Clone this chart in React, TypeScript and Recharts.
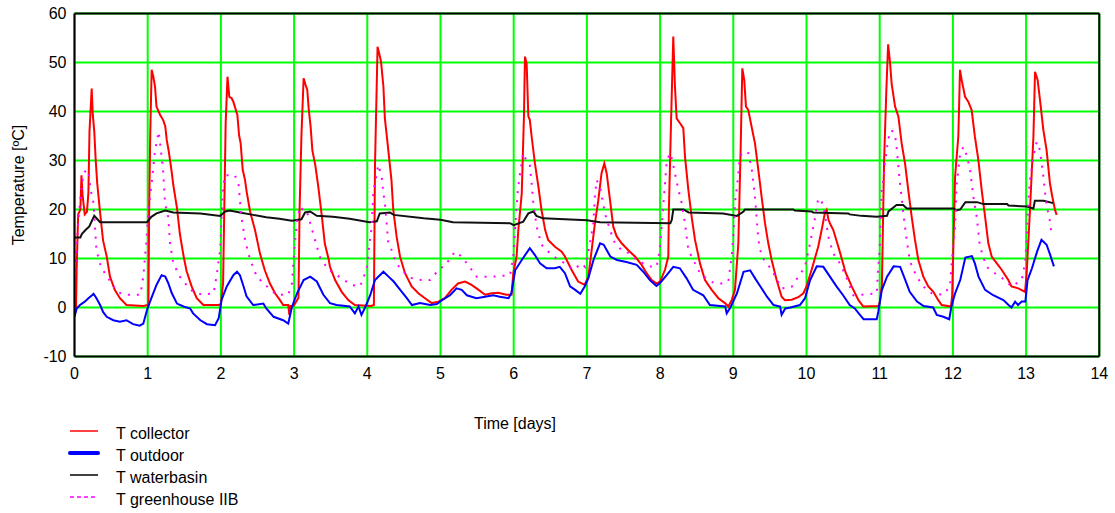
import React from 'react';
import { LineChart, Line, XAxis, YAxis, CartesianGrid, ReferenceLine } from 'recharts';

type P = [number, number];

// [day, °C]
const collector: P[] = [
  [0, -1.5], [0.02, -0.5], [0.03, 8], [0.05, 19], [0.08, 20], [0.095, 27], [0.11, 23], [0.14, 19], [0.17, 19.5],
  [0.19, 23.4], [0.205, 36], [0.235, 44.7], [0.25, 39.3], [0.27, 36], [0.29, 30], [0.31, 25.4], [0.35, 19.3],
  [0.39, 13.7], [0.44, 10.4], [0.485, 6.3], [0.55, 3.6], [0.62, 1.9], [0.71, 0.5], [0.94, 0.3], [1.0, 0.5],
  [1.01, 0.5], [1.02, 20], [1.035, 35.6], [1.054, 48.5], [1.077, 47.1], [1.1, 45.1], [1.12, 41], [1.17, 39.3],
  [1.21, 38.3], [1.24, 37], [1.26, 34.2], [1.285, 32.1], [1.305, 30.1], [1.33, 27.4], [1.35, 25], [1.4, 20.3],
  [1.44, 15], [1.49, 10.5], [1.53, 7.5], [1.6, 4.3], [1.67, 1.9], [1.76, 0.5], [1.97, 0.5],
  [2.0, 0.8], [2.03, 5], [2.065, 37.6], [2.09, 47.1], [2.115, 43], [2.147, 42.7], [2.17, 42],
  [2.19, 41], [2.225, 39.3], [2.248, 35.2], [2.27, 33.5], [2.298, 28.1], [2.33, 26], [2.352, 23.6], [2.4, 19.5],
  [2.466, 15.8], [2.534, 11], [2.6, 7.6], [2.67, 4.9], [2.74, 2.9], [2.807, 1.5], [2.85, 0.5], [2.92, 0.5],
  [2.935, -1.5], [2.95, 0.3], [2.985, 0.3],
  [3.0, 0.5], [3.04, 1.5], [3.06, 2], [3.075, 20], [3.1, 35], [3.13, 46.8], [3.155, 45.5], [3.18, 44.4], [3.2, 40.5],
  [3.225, 37], [3.25, 32], [3.29, 29], [3.33, 24.7], [3.38, 18.5], [3.42, 13], [3.47, 10], [3.49, 8.3],
  [3.56, 5.6], [3.65, 3.2], [3.74, 1.5], [3.83, 0.5], [4.05, 0.3],
  [4.09, 0.5], [4.105, 29], [4.14, 53.2], [4.16, 52], [4.187, 50.2], [4.22, 45.1], [4.24, 38.6], [4.265, 35.2],
  [4.296, 30.8], [4.33, 26], [4.355, 19.9], [4.4, 14.5], [4.447, 10.4], [4.515, 7.0], [4.606, 4.3], [4.697, 2.9],
  [4.788, 1.9], [4.88, 0.9], [4.97, 1.2], [5.06, 1.9], [5.15, 3.6], [5.24, 4.9], [5.335, 5.3], [5.425, 4.6],
  [5.52, 3.6], [5.61, 2.6], [5.7, 2.9], [5.79, 3.0], [5.9, 2.6], [5.97, 2.6],
  [5.995, 7], [6.04, 10.5], [6.063, 15.8], [6.11, 23.3], [6.14, 39], [6.154, 51.2], [6.177, 49.8], [6.2, 39],
  [6.22, 38.3], [6.245, 34.9], [6.29, 29.4], [6.337, 24.7], [6.38, 19.9], [6.43, 15.8], [6.47, 13.8],
  [6.564, 12.4], [6.655, 11.4], [6.7, 10.4], [6.79, 7.7], [6.88, 5.3], [6.97, 4.6],
  [7.02, 6.3], [7.065, 11.7], [7.11, 17.2], [7.156, 21.9], [7.2, 27.4], [7.238, 29.4], [7.27, 27.4], [7.316, 21.9],
  [7.36, 16.5], [7.407, 14.5], [7.475, 13.1], [7.566, 11.7], [7.657, 10.4], [7.748, 8.7], [7.816, 7.0],
  [7.885, 5.6], [7.953, 4.9], [8.0, 5.3], [8.067, 7.7], [8.112, 10.4],
  [8.12, 19.9], [8.149, 37.6], [8.18, 55.3], [8.203, 45.1], [8.226, 38.6], [8.272, 37.6], [8.317, 36.6],
  [8.34, 30.8], [8.386, 24], [8.431, 18.5], [8.477, 13.8], [8.545, 9.0], [8.613, 5.6], [8.705, 3.6],
  [8.796, 1.9], [8.886, 0.9], [8.932, 0.2], [8.978, 1.5], [9.023, 3.6],
  [9.069, 13.1], [9.1, 32.1], [9.123, 48.8], [9.15, 46.4], [9.173, 41], [9.205, 40.3], [9.25, 36.9],
  [9.296, 33.5], [9.342, 28.1], [9.387, 22.6], [9.433, 17.2], [9.478, 13.1], [9.524, 9.7], [9.592, 5.6],
  [9.66, 2.2], [9.706, 1.5], [9.797, 1.6], [9.888, 2.1], [9.957, 2.9], [10.0, 4.3], [10.07, 7.7],
  [10.16, 12.4], [10.216, 16.5], [10.25, 19.2], [10.275, 19.9], [10.3, 17.9], [10.32, 17.2], [10.366, 15.8],
  [10.435, 12.4], [10.5, 9.0], [10.53, 7.3], [10.617, 4.3], [10.71, 1.5], [10.776, 0.2], [10.98, 0.3],
  [11.0, 1.0], [11.03, 4.5], [11.06, 30], [11.09, 44], [11.115, 53.7], [11.14, 50.2], [11.163, 45.7],
  [11.21, 41], [11.255, 39], [11.3, 33.5], [11.346, 29.4], [11.39, 24], [11.437, 18.5], [11.482, 13.8],
  [11.528, 9.7], [11.596, 6.3], [11.664, 4.3], [11.733, 3.2], [11.8, 1.5], [11.847, 0.5], [11.974, 0.2],
  [11.99, 2.5], [12.03, 26.7], [12.074, 34.9], [12.097, 48.5], [12.12, 46.4], [12.166, 43], [12.21, 42],
  [12.256, 40.3], [12.3, 34.9], [12.348, 30.1], [12.393, 24], [12.44, 18.5], [12.484, 13.1], [12.53, 10.4],
  [12.6, 9.0], [12.666, 7.7], [12.757, 5.6], [12.8, 4.3], [12.894, 3.9], [12.985, 3.2],
  [13.008, 7.0], [13.053, 19.9], [13.1, 34.9], [13.122, 48.1], [13.158, 46.4], [13.19, 42.3], [13.236, 36.2],
  [13.28, 32.1], [13.326, 25.3], [13.358, 22.6], [13.395, 19.9], [13.418, 18.9],
];

const outdoor: P[] = [
  [0, -1.9], [0.03, -0.2], [0.075, 0.5], [0.14, 1.2], [0.19, 1.9], [0.24, 2.5], [0.26, 2.8], [0.3, 1.9],
  [0.35, 0.5], [0.39, -0.9], [0.44, -1.9], [0.53, -2.6], [0.62, -2.9], [0.71, -2.6], [0.8, -3.4], [0.89, -3.7],
  [0.94, -3.3], [0.99, -0.5], [1.05, 1.9], [1.12, 4.6], [1.19, 6.6], [1.24, 6.3], [1.28, 5.0], [1.33, 2.9],
  [1.4, 0.8], [1.49, 0.2], [1.58, -0.2], [1.62, -1.2], [1.72, -2.6], [1.81, -3.4], [1.92, -3.6], [1.97, -2.2],
  [2.01, 1.6], [2.08, 4.3], [2.17, 6.6], [2.22, 7.3], [2.26, 6.6], [2.31, 4.3], [2.35, 2.3], [2.44, 0.5],
  [2.58, 0.8], [2.62, -0.2], [2.72, -1.9], [2.85, -2.6], [2.92, -3.3], [2.97, 0.1], [3.04, 2.9], [3.13, 5.6],
  [3.22, 6.3], [3.31, 5.3], [3.4, 2.6], [3.49, 0.9], [3.58, 0.5], [3.76, 0.2], [3.83, -1.2], [3.88, 0.2],
  [3.92, -1.5], [3.97, 0.0], [4.04, 2.5], [4.105, 5.6], [4.22, 7.3], [4.29, 6.3], [4.36, 5.3], [4.45, 3.6],
  [4.54, 1.9], [4.61, 0.5], [4.72, 0.9], [4.86, 0.5], [4.95, 0.7], [5.02, 1.5], [5.13, 2.5], [5.22, 3.9],
  [5.29, 3.6], [5.36, 2.5], [5.49, 1.9], [5.61, 2.2], [5.72, 2.5], [5.81, 2.2], [5.93, 1.9], [5.97, 3.0],
  [6.02, 7.6], [6.11, 9.7], [6.22, 12.1], [6.29, 10.7], [6.36, 9.0], [6.45, 8.0], [6.56, 8.0], [6.63, 8.3],
  [6.7, 7.0], [6.77, 4.3], [6.84, 3.6], [6.91, 2.8], [6.97, 4.3], [7.02, 6.0], [7.09, 9.7], [7.18, 13.1],
  [7.23, 12.8], [7.32, 10.4], [7.41, 9.7], [7.54, 9.3], [7.68, 8.7], [7.77, 7.3], [7.86, 5.6], [7.95, 4.4],
  [8.0, 5.0], [8.09, 6.6], [8.18, 8.3], [8.27, 8.0], [8.36, 6.0], [8.45, 3.6], [8.59, 2.5], [8.68, 0.5],
  [8.82, 0.3], [8.89, 0.2], [8.91, -1.2], [8.96, 0.0], [9.05, 2.9], [9.14, 7.3], [9.23, 7.6], [9.3, 5.9],
  [9.37, 4.3], [9.46, 2.2], [9.55, 0.5], [9.64, 0.2], [9.66, -1.5], [9.71, -0.2], [9.78, 0.0], [9.91, 0.5],
  [9.98, 1.9], [10.05, 5.6], [10.14, 8.4], [10.23, 8.3], [10.32, 6.3], [10.41, 4.3], [10.5, 2.5], [10.59, 0.5],
  [10.66, -0.2], [10.73, -1.5], [10.78, -2.4], [10.96, -2.4], [10.98, -0.9], [11.03, 3.6], [11.1, 6.3],
  [11.19, 8.4], [11.28, 8.3], [11.35, 5.6], [11.41, 3.2], [11.51, 1.2], [11.6, 0.3], [11.73, 0.0], [11.78, -1.5],
  [11.87, -1.9], [11.95, -2.4], [11.98, 0.2], [12.03, 2.9], [12.1, 5.6], [12.17, 10.2], [12.26, 10.5],
  [12.3, 9.0], [12.35, 6.3], [12.44, 3.6], [12.55, 2.5], [12.69, 1.5], [12.76, 0.5], [12.8, 0.0], [12.85, 1.2],
  [12.89, 0.5], [12.94, 1.2], [12.99, 1.2], [13.02, 5.6], [13.08, 8.0], [13.15, 11.4], [13.21, 13.8],
  [13.28, 12.8], [13.33, 10.7], [13.38, 8.4],
];

const waterbasin: P[] = [
  [0, 14.3], [0.08, 14.3], [0.1, 15], [0.15, 15.8], [0.2, 16.5], [0.27, 18.7], [0.35, 17.4], [0.99, 17.4],
  [1.05, 18.5], [1.12, 19.2], [1.24, 19.8], [1.35, 19.4], [1.72, 19.2], [1.99, 18.7], [2.06, 19.6], [2.12, 19.8],
  [2.26, 19.4], [2.44, 18.9], [2.62, 18.4], [2.8, 18.1], [2.97, 17.7], [3.1, 18.0], [3.15, 19.4], [3.22, 19.6],
  [3.31, 18.7], [3.53, 18.5], [3.76, 18.1], [4.03, 17.4], [4.13, 17.6], [4.17, 19.2], [4.31, 19.4], [4.36, 18.9],
  [4.77, 18.2], [5.0, 17.9], [5.17, 17.4], [5.95, 17.2], [6.0, 16.8], [6.13, 17.5], [6.2, 19.2], [6.27, 19.6],
  [6.31, 18.7], [6.4, 18.2], [7.0, 17.8], [7.18, 17.4], [8.14, 17.2], [8.16, 17.9], [8.18, 20.0], [8.32, 20.0],
  [8.39, 19.4], [8.86, 19.2], [9.05, 18.7], [9.14, 19.6], [9.16, 20.0], [9.82, 20.0], [9.84, 19.8], [10.07, 19.6],
  [10.09, 19.4], [10.57, 19.2], [10.59, 19.0], [10.75, 18.7], [10.96, 18.5], [11.1, 18.7], [11.12, 19.6],
  [11.23, 20.9], [11.32, 20.9], [11.37, 20.2], [12.01, 20.2], [12.05, 19.8], [12.1, 20.0], [12.17, 21.5],
  [12.33, 21.5], [12.42, 21.1], [12.74, 21.1], [12.76, 20.8], [13.01, 20.6], [13.1, 20.2], [13.12, 21.8],
  [13.24, 21.8], [13.37, 21.3],
];

const greenhouse: P[] = [
  [0, 2], [0.02, 10.4], [0.05, 17.2], [0.075, 21.6], [0.11, 26], [0.14, 27.7], [0.19, 28.1], [0.22, 24],
  [0.26, 21.3], [0.3, 11.7], [0.36, 8.3], [0.46, 6.0], [0.58, 3.2], [0.69, 2.6], [0.9, 2.6], [0.94, 6.3],
  [0.98, 13.1], [1.01, 19.9], [1.054, 25.3], [1.1, 32.1], [1.15, 35.9], [1.19, 30.8], [1.21, 28.1],
  [1.236, 21.3], [1.28, 18.5], [1.305, 13.1], [1.35, 9.0], [1.44, 6.3], [1.58, 3.6], [1.74, 2.6], [1.9, 2.9],
  [1.94, 6.3], [1.99, 11.7], [2.01, 18.5], [2.03, 24.6], [2.056, 27], [2.12, 27], [2.19, 27], [2.24, 25.3],
  [2.28, 18.5], [2.33, 13.8], [2.375, 11], [2.42, 9], [2.49, 6.3], [2.63, 4.3], [2.76, 2.6], [2.92, 2.6],
  [2.97, 4.9], [2.99, 9], [3.035, 17.2], [3.08, 20.6], [3.125, 19.9], [3.17, 19.9], [3.22, 17.2], [3.285, 13.8],
  [3.35, 10.4], [3.44, 8.3], [3.47, 7.7], [3.786, 4.6], [3.9, 4.3], [3.99, 7.7], [4.014, 11.0], [4.037, 13.8],
  [4.06, 16.5], [4.082, 23.6], [4.105, 25.3], [4.15, 29.1], [4.196, 26.7], [4.22, 23.3], [4.24, 21.3],
  [4.264, 17.2], [4.287, 13.1], [4.333, 11.7], [4.4, 9.0], [4.49, 7.3], [4.606, 6.0], [4.74, 5.6], [4.856, 5.6],
  [4.993, 8.0], [5.06, 8.5], [5.13, 10.0], [5.198, 11.4], [5.29, 10.4], [5.494, 6.3], [5.608, 6.3], [5.72, 6.3],
  [5.95, 6.6], [5.995, 10.4], [6.018, 15.8], [6.054, 23.6], [6.077, 26.4], [6.13, 31.5], [6.177, 29.8],
  [6.22, 29.1], [6.245, 25.3], [6.268, 21.3], [6.314, 16.5], [6.38, 12.8], [6.473, 11.4], [6.587, 10.0],
  [6.7, 9.0], [6.814, 7.7], [6.93, 9.0], [6.974, 8.3], [7.042, 13.1], [7.088, 17.2], [7.11, 23], [7.133, 26],
  [7.18, 24.6], [7.247, 19.2], [7.316, 15.8], [7.384, 13.1], [7.475, 11.7], [7.544, 11.4], [7.657, 10.0],
  [7.77, 9.0], [7.885, 8.3], [7.953, 8.3], [7.999, 12.1], [8.044, 20.9], [8.09, 29.8], [8.135, 31.5],
  [8.158, 30.5], [8.203, 27.4], [8.25, 24], [8.295, 21.3], [8.34, 17.2], [8.386, 11.7], [8.454, 9.7],
  [8.545, 7.0], [8.66, 5.6], [8.75, 4.9], [8.84, 4.9], [8.932, 5.3], [8.978, 10.4], [9.0, 14.5], [9.023, 21.3],
  [9.06, 26], [9.09, 30.8], [9.137, 31.8], [9.205, 31.5], [9.25, 28.4], [9.296, 22.6], [9.342, 13.8],
  [9.387, 10.4], [9.524, 7.7], [9.66, 3.9], [9.797, 4.2], [9.888, 6.3], [9.98, 8.3], [10.048, 13.1],
  [10.116, 18.2], [10.16, 22.3], [10.207, 21.6], [10.25, 19.2], [10.298, 14.5], [10.366, 11], [10.457, 9.0],
  [10.548, 6.0], [10.64, 2.5], [10.75, 2.6], [10.96, 2.9], [10.98, 8.3], [11.0, 11.7], [11.027, 24],
  [11.05, 26], [11.07, 29.4], [11.118, 34.5], [11.163, 36.2], [11.21, 35.2], [11.232, 32.5], [11.277, 25.3],
  [11.323, 19.2], [11.368, 13.8], [11.414, 9.4], [11.505, 6.3], [11.596, 4.3], [11.71, 2.9], [11.87, 2.6],
  [11.96, 4.3], [11.983, 9.0], [12.03, 16.5], [12.05, 25], [12.097, 31.1], [12.143, 32.8], [12.188, 31.1],
  [12.234, 28.1], [12.28, 22.6], [12.325, 18.5], [12.37, 12.4], [12.46, 8.3], [12.575, 7.0], [12.71, 5.6],
  [12.8, 4.3], [12.94, 5.6], [12.985, 9.0], [13.008, 13.8], [13.03, 21.9], [13.053, 26], [13.1, 30.8],
  [13.145, 33.8], [13.19, 32.1], [13.213, 29.4], [13.236, 26.7], [13.258, 23.6], [13.28, 20.9], [13.327, 17.5],
  [13.35, 14.5],
];

const xTicks = [0, 1, 2, 3, 4, 5, 6, 7, 8, 9, 10, 11, 12, 13, 14];
const yTicks = [-10, 0, 10, 20, 30, 40, 50, 60];

const legendItems = [
  { label: 'T collector', color: '#ff0000', width: 1.5, dash: undefined as string | undefined },
  { label: 'T outdoor', color: '#0000ff', width: 4, dash: undefined as string | undefined },
  { label: 'T waterbasin', color: '#000000', width: 1.5, dash: undefined as string | undefined },
  { label: 'T greenhouse IIB', color: '#ff00ff', width: 1.5, dash: '4 3' },
];

const FONT = '"Liberation Sans", Arial, Helvetica, sans-serif';

const rows = (pts: P[], key: string) => pts.map(([t, v]) => ({ t, [key]: v }));

export default function App() {
  return (
    <div style={{ position: 'absolute', left: 0, top: 0, width: 1115, height: 513, background: '#ffffff' }}>
      <LineChart width={1115} height={513} margin={{ top: 13.5, right: 15.7, left: 14.5, bottom: 126.5 }}>
        <CartesianGrid stroke="#00ff00" strokeWidth={2} />
        <XAxis
          type="number"
          dataKey="t"
          domain={[0, 14]}
          ticks={xTicks}
          interval={0}
          allowDataOverflow
          height={30}
          tickLine={false}
          tickMargin={5}
          axisLine={{ stroke: '#000', strokeWidth: 2 }}
          tick={{ fill: '#000', fontSize: 16, fontFamily: FONT }}
        />
        <YAxis
          type="number"
          domain={[-10, 60]}
          ticks={yTicks}
          interval={0}
          allowDataOverflow
          width={60}
          tickLine={false}
          axisLine={{ stroke: '#000', strokeWidth: 2 }}
          tick={{ fill: '#000', fontSize: 16, fontFamily: FONT }}
          label={{
            value: 'Temperature [ºC]',
            angle: -90,
            position: 'insideLeft',
            offset: 4,
            fill: '#000',
            fontSize: 16,
            fontFamily: FONT,
            style: { textAnchor: 'middle' },
          }}
        />
        <ReferenceLine y={60} stroke="#000" strokeWidth={2} />
        <ReferenceLine x={14} stroke="#000" strokeWidth={2} />
        <Line data={rows(collector, 'collector')} dataKey="collector" type="linear" stroke="#ff0000" strokeWidth={2} dot={false} activeDot={false} isAnimationActive={false} />
        <Line data={rows(outdoor, 'outdoor')} dataKey="outdoor" type="linear" stroke="#0000ff" strokeWidth={2} dot={false} activeDot={false} isAnimationActive={false} />
        <Line data={rows(waterbasin, 'waterbasin')} dataKey="waterbasin" type="linear" stroke="#111111" strokeWidth={2} dot={false} activeDot={false} isAnimationActive={false} />
        <Line data={rows(greenhouse, 'greenhouse')} dataKey="greenhouse" type="linear" stroke="#ff00ff" strokeWidth={2} strokeDasharray="2 7" dot={false} activeDot={false} isAnimationActive={false} />
      </LineChart>
      <svg width={1115} height={513} style={{ position: 'absolute', left: 0, top: 0, pointerEvents: 'none' }}>
        <text x={515} y={429} textAnchor="middle" fontFamily={FONT} fontSize={16} fill="#000">Time [days]</text>
        {legendItems.map((it, i) => {
          const cy = 433 + i * 22;
          return (
            <g key={it.label}>
              <line x1={70} x2={98} y1={cy - 2} y2={cy - 2} stroke={it.color} strokeWidth={it.width} strokeDasharray={it.dash} strokeLinecap={it.width > 2 ? 'round' : 'butt'} />
              <text x={116} y={cy + 5.5} fontFamily={FONT} fontSize={16} fill="#000">{it.label}</text>
            </g>
          );
        })}
      </svg>
    </div>
  );
}
